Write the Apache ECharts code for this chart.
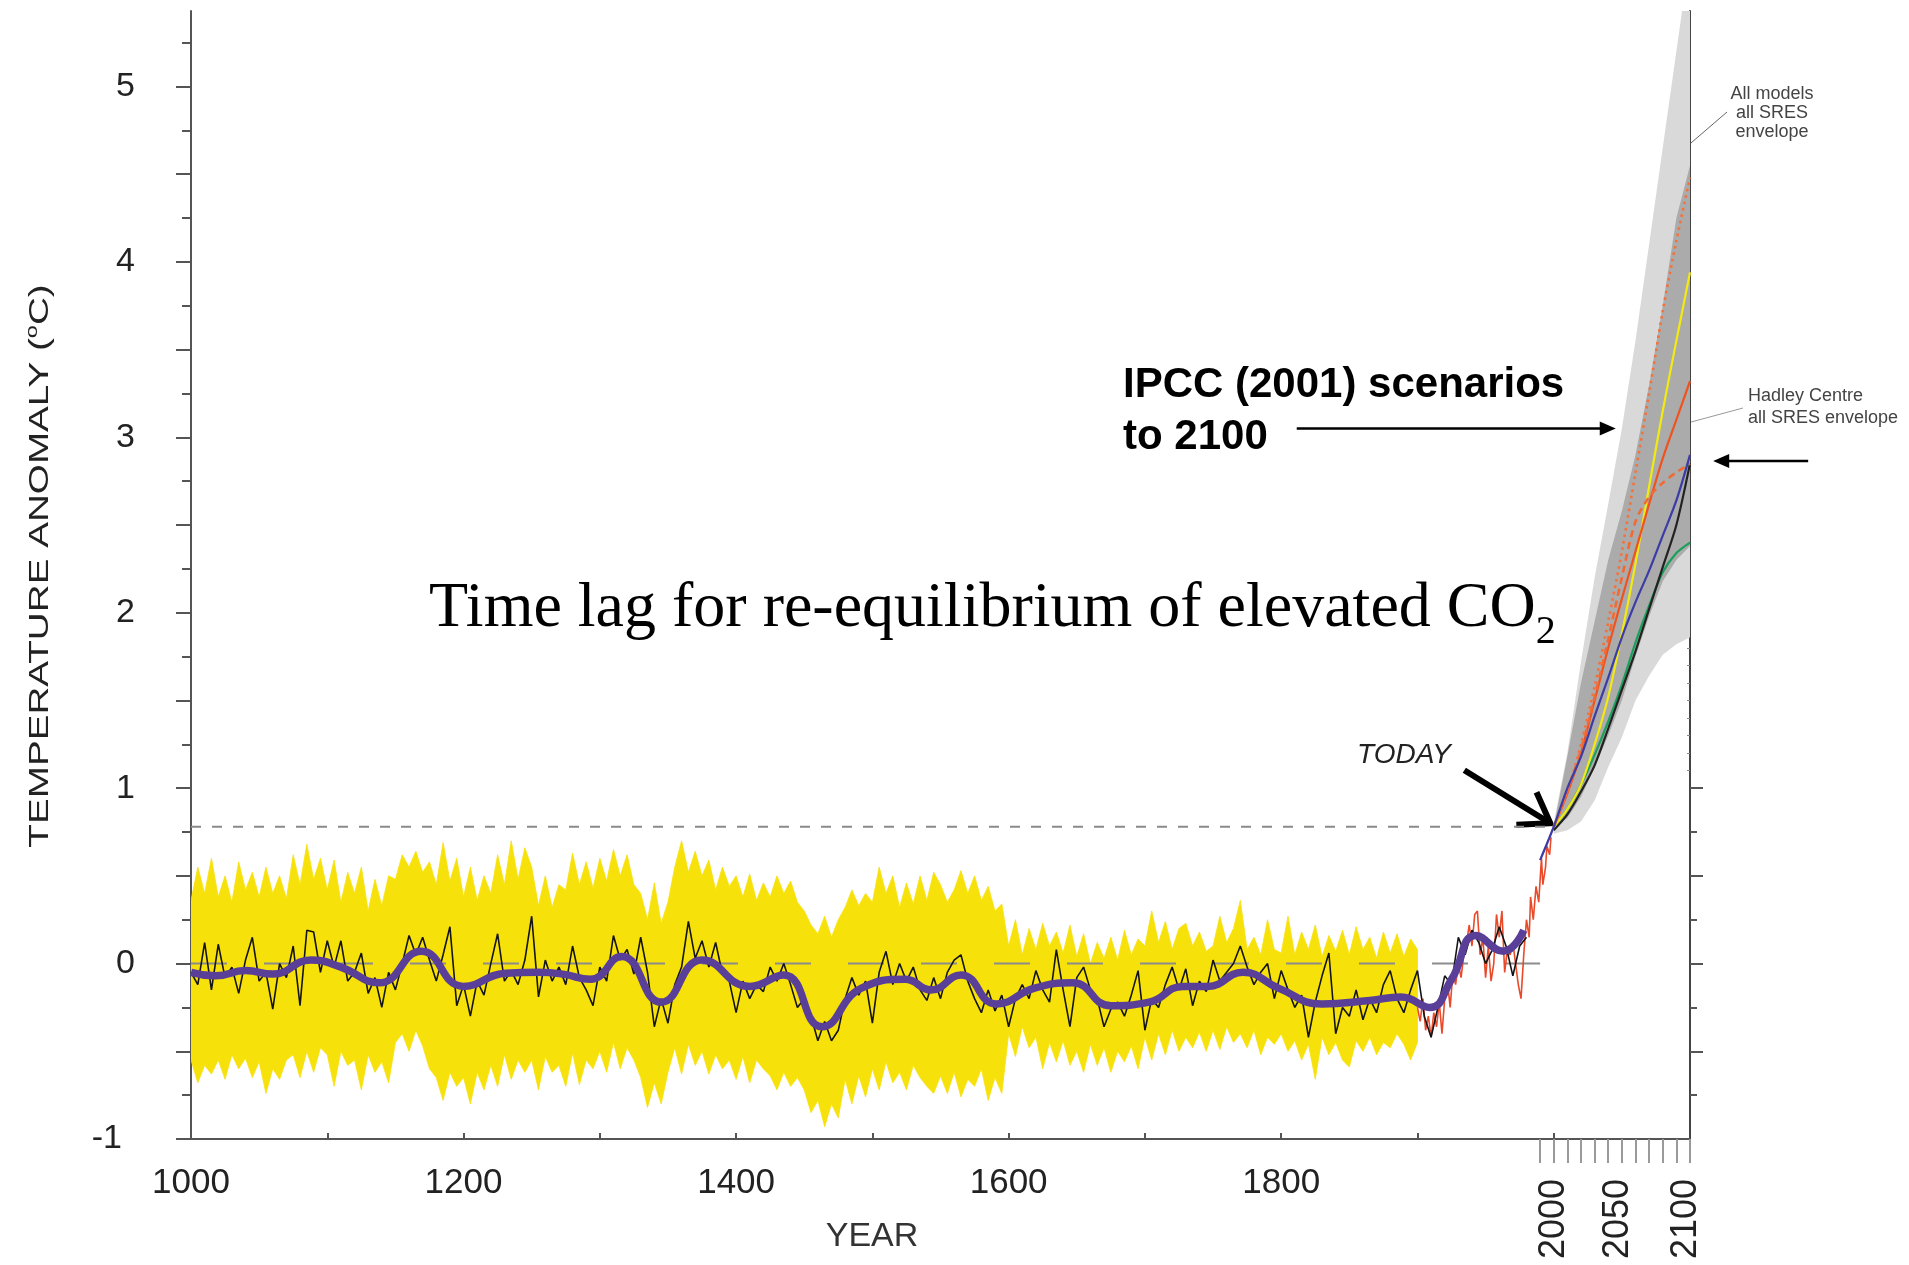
<!DOCTYPE html>
<html>
<head>
<meta charset="utf-8">
<title>Temperature anomaly 1000-2100</title>
<script src="https://cdn.jsdelivr.net/npm/echarts@6/dist/echarts.min.js"></script>
<style>
  html, body { margin: 0; padding: 0; background: #ffffff; }
  #chart { width: 1909px; height: 1265px; }
</style>
</head>
<body>
<div id="chart"></div>
<script>
// ---------------- data ----------------
// Reconstruction uncertainty band, one value every 5 years from 1000 to 1900
const bandStartYear = 1000;
const bandStepYears = 5;
const bandUpper = [
  0.36, 0.55, 0.40, 0.60, 0.38, 0.50, 0.35, 0.58, 0.42, 0.52,
  0.38, 0.55, 0.40, 0.50, 0.37, 0.62, 0.45, 0.68, 0.48, 0.60,
  0.42, 0.59, 0.35, 0.52, 0.40, 0.55, 0.30, 0.48, 0.33, 0.50,
  0.48, 0.62, 0.55, 0.64, 0.52, 0.58, 0.45, 0.69, 0.47, 0.60,
  0.38, 0.55, 0.36, 0.50, 0.40, 0.62, 0.45, 0.70, 0.48, 0.66,
  0.55, 0.33, 0.50, 0.32, 0.45, 0.42, 0.63, 0.45, 0.58, 0.43,
  0.60, 0.47, 0.65, 0.50, 0.62, 0.45, 0.40, 0.25, 0.46, 0.23,
  0.35, 0.55, 0.70, 0.52, 0.64, 0.50, 0.59, 0.42, 0.55, 0.44,
  0.50, 0.38, 0.51, 0.36, 0.46, 0.38, 0.50, 0.40, 0.47, 0.35,
  0.30, 0.22, 0.17, 0.27, 0.15, 0.25, 0.32, 0.42, 0.33, 0.40,
  0.35, 0.55, 0.40, 0.50, 0.32, 0.46, 0.34, 0.50, 0.36, 0.52,
  0.45, 0.35, 0.42, 0.53, 0.40, 0.50, 0.36, 0.44, 0.30, 0.34,
  0.10, 0.25, 0.05, 0.20, 0.08, 0.23, 0.10, 0.18, 0.06, 0.22,
  0.04, 0.17, 0.00, 0.12, 0.03, 0.15, 0.02, 0.19, 0.05, 0.14,
  0.10, 0.30, 0.12, 0.24, 0.08, 0.20, 0.23, 0.10, 0.18, 0.07,
  0.10, 0.27, 0.12, 0.20, 0.36, 0.08, 0.15, 0.05, 0.25, 0.08,
  0.06, 0.27, 0.05, 0.18, 0.08, 0.22, 0.04, 0.16, 0.07, 0.19,
  0.05, 0.21, 0.08, 0.15, 0.03, 0.18, 0.06, 0.17, 0.04, 0.14,
  0.08
];
const bandLower = [
  -0.55, -0.68, -0.58, -0.63, -0.55, -0.66, -0.52, -0.60, -0.54, -0.65,
  -0.56, -0.74, -0.60, -0.66, -0.55, -0.52, -0.65, -0.50, -0.62, -0.48,
  -0.52, -0.70, -0.50, -0.58, -0.55, -0.72, -0.52, -0.62, -0.56, -0.68,
  -0.45, -0.40, -0.50, -0.38, -0.47, -0.60, -0.65, -0.78, -0.62, -0.70,
  -0.65, -0.80, -0.62, -0.72, -0.58, -0.70, -0.52, -0.66, -0.55, -0.62,
  -0.55, -0.72, -0.53, -0.62, -0.58, -0.70, -0.51, -0.69, -0.55, -0.60,
  -0.50, -0.62, -0.45, -0.60, -0.48, -0.55, -0.65, -0.82, -0.68, -0.80,
  -0.62, -0.48, -0.63, -0.46, -0.58, -0.50, -0.63, -0.52, -0.60, -0.55,
  -0.66, -0.53, -0.68, -0.55, -0.60, -0.64, -0.72, -0.62, -0.70, -0.65,
  -0.72, -0.85, -0.78, -0.93, -0.80, -0.88, -0.66, -0.80, -0.64, -0.76,
  -0.60, -0.72, -0.56, -0.68, -0.62, -0.72, -0.58, -0.65, -0.70, -0.74,
  -0.64, -0.74, -0.62, -0.76, -0.66, -0.70, -0.60, -0.78, -0.65, -0.74,
  -0.40, -0.53, -0.36, -0.48, -0.42, -0.60, -0.45, -0.56, -0.44, -0.58,
  -0.50, -0.62, -0.46, -0.58, -0.48, -0.62, -0.50, -0.56, -0.47, -0.60,
  -0.42, -0.55, -0.40, -0.52, -0.38, -0.50, -0.42, -0.48, -0.39, -0.50,
  -0.38, -0.49, -0.36, -0.45, -0.40, -0.48, -0.38, -0.52, -0.42, -0.46,
  -0.40, -0.50, -0.44, -0.55, -0.46, -0.66, -0.42, -0.52, -0.45, -0.55,
  -0.59, -0.44, -0.50, -0.42, -0.52, -0.45, -0.48, -0.40, -0.46, -0.55,
  -0.45
];

// Proxy reconstruction, one value every 5 years from 1000 to 1980
const proxyStartYear = 1000;
const proxyStepYears = 5;
const proxyValues = [
  -0.05, -0.12, 0.12, -0.15, 0.11, -0.08, -0.02, -0.17, 0.02, 0.15,
  -0.10, -0.05, -0.26, 0.00, -0.08, 0.10, -0.24, 0.19, 0.18, -0.05,
  0.13, -0.02, 0.13, -0.10, -0.05, 0.06, -0.17, -0.08, -0.25, -0.05,
  -0.15, 0.00, 0.16, 0.05, 0.15, 0.02, -0.10, 0.05, 0.21, -0.24,
  -0.12, -0.30, -0.10, -0.18, 0.00, 0.17, -0.10, -0.04, -0.12, 0.02,
  0.27, -0.19, 0.02, -0.10, -0.02, -0.12, 0.10, -0.08, -0.15, -0.24,
  -0.02, -0.10, 0.16, 0.02, 0.08, -0.06, 0.15, -0.05, -0.36, -0.20,
  -0.34, -0.12, -0.02, 0.24, 0.03, 0.13, -0.02, 0.12, -0.06, -0.10,
  -0.28, -0.10, -0.20, -0.12, -0.16, -0.02, -0.10, 0.00, -0.12, -0.25,
  -0.20, -0.30, -0.44, -0.33, -0.44, -0.38, -0.20, -0.08, -0.18, -0.10,
  -0.34, -0.05, 0.07, -0.12, 0.00, -0.10, -0.02, -0.15, -0.21, -0.08,
  -0.20, -0.05, 0.02, 0.05, -0.10, -0.20, -0.28, -0.15, -0.27, -0.18,
  -0.36, -0.20, -0.12, -0.20, -0.04, -0.15, -0.22, 0.08, -0.15, -0.36,
  -0.08, -0.02, -0.15, -0.20, -0.36, -0.26, -0.22, -0.30, -0.18, -0.04,
  -0.38, -0.20, -0.25, -0.12, -0.02, -0.15, -0.03, -0.24, -0.10, -0.16,
  0.02, -0.10, -0.05, 0.00, 0.10, -0.02, -0.12, -0.05, 0.00, -0.20,
  -0.04, -0.15, -0.25, -0.18, -0.42, -0.22, -0.07, 0.06, -0.40, -0.25,
  -0.30, -0.15, -0.32, -0.20, -0.28, -0.12, -0.04, -0.20, -0.28, -0.15,
  -0.04, -0.30, -0.42, -0.25, -0.07, -0.12, 0.15, 0.05, 0.19, 0.12,
  0.00, 0.08, 0.21, 0.10, -0.07, 0.10, 0.15
];

// 40-year smoothed reconstruction
const smoothYears = [
  1000, 1018, 1040, 1060, 1088, 1110, 1138, 1169, 1200, 1231,
  1255, 1273, 1293, 1316, 1345, 1375, 1410, 1435, 1463, 1492,
  1524, 1543, 1565, 1591, 1619, 1647, 1675, 1703, 1728, 1746,
  1772, 1798, 1830, 1865, 1888, 1909, 1925, 1943, 1963, 1978
];
const smoothValues = [
  -0.05, -0.07, -0.04, -0.06, 0.02, -0.02, -0.11, 0.07, -0.13, -0.055,
  -0.05, -0.06, -0.09, 0.04, -0.22, 0.02, -0.13, -0.065, -0.36, -0.14,
  -0.09, -0.15, -0.065, -0.23, -0.14, -0.11, -0.24, -0.22, -0.13, -0.13,
  -0.05, -0.14, -0.23, -0.21, -0.19, -0.25, -0.09, 0.16, 0.07, 0.19
];

// Instrumental record
const instYears = [
  1900, 1902, 1904, 1906, 1908, 1910, 1912, 1914, 1916, 1918,
  1920, 1922, 1924, 1926, 1928, 1930, 1932, 1934, 1936, 1938,
  1940, 1942, 1944, 1946, 1948, 1950, 1952, 1954, 1956, 1958,
  1960, 1962, 1964, 1966, 1968, 1970, 1972, 1974, 1976, 1978,
  1980, 1982, 1983, 1985, 1987, 1989, 1991, 1992, 1994, 1995,
  1997, 1998
];
const instValues = [
  -0.25, -0.33, -0.20, -0.38, -0.30, -0.42, -0.28, -0.36, -0.22, -0.40,
  -0.20, -0.10, -0.25, -0.05, -0.12, 0.00, -0.08, 0.05, 0.12, 0.22,
  0.10, 0.28, 0.30, 0.05, 0.15, -0.08, 0.10, -0.10, 0.00, 0.28,
  0.15, 0.30, -0.05, 0.08, 0.05, 0.12, 0.00, -0.12, -0.20, 0.05,
  0.25, 0.15, 0.38, 0.25, 0.44, 0.35, 0.60, 0.45, 0.55, 0.67,
  0.62, 0.72
];

// Projections to 2100
const projYears      = [2000, 2010, 2020, 2030, 2040, 2050, 2060, 2070, 2080, 2090, 2100];
const allModelsLow   = [0.74, 0.76, 0.81, 0.93, 1.12, 1.29, 1.50, 1.64, 1.76, 1.82, 1.86];
const allModelsHigh  = [0.80, 1.20, 1.72, 2.20, 2.62, 3.05, 3.55, 4.10, 4.65, 5.20, 5.75];
const hadleyLow      = [0.78, 0.83, 0.95, 1.12, 1.30, 1.50, 1.75, 1.98, 2.18, 2.30, 2.38];
const hadleyHigh     = [0.78, 1.18, 1.60, 1.95, 2.30, 2.58, 2.90, 3.30, 3.75, 4.25, 4.55];
const scenA1FI       = [0.78, 0.98, 1.25, 1.58, 1.95, 2.35, 2.80, 3.25, 3.72, 4.12, 4.48];
const scenA2         = [0.78, 0.88, 1.02, 1.25, 1.52, 1.88, 2.28, 2.72, 3.15, 3.55, 3.94];
const scenA1B        = [0.78, 0.97, 1.20, 1.50, 1.80, 2.08, 2.35, 2.62, 2.88, 3.10, 3.32];
const scenB2         = [0.78, 0.98, 1.22, 1.52, 1.85, 2.20, 2.52, 2.66, 2.74, 2.80, 2.85];
const scenBlack      = [0.76, 0.85, 0.98, 1.13, 1.34, 1.56, 1.78, 2.02, 2.26, 2.50, 2.85];
const scenB1         = [0.78, 0.88, 1.02, 1.19, 1.38, 1.59, 1.83, 2.04, 2.23, 2.34, 2.40];
const scenBlueYears  = [1990, 2000, 2010, 2020, 2030, 2040, 2050, 2060, 2070, 2080, 2090, 2100];
const scenBlue       = [0.59, 0.78, 1.00, 1.18, 1.41, 1.63, 1.86, 2.06, 2.24, 2.44, 2.64, 2.90];

const todayLevel = 0.78;

// Axis ticks and labels
const yLabelValues = [-1, 0, 1, 2, 3, 4, 5];
const yMajorTicks = [-1, -0.5, 0, 0.5, 1, 1.5, 2, 2.5, 3, 3.5, 4, 4.5, 5];
const yMinorTicks = [-0.75, -0.25, 0.25, 0.75, 1.25, 1.75, 2.25, 2.75, 3.25, 3.75, 4.25, 4.75, 5.25];
const xLabelValues = [1000, 1200, 1400, 1600, 1800];
const xInnerTicks = [1100, 1200, 1300, 1400, 1500, 1600, 1700, 1800, 1900, 2000];
const projTickValues = [1990, 2000, 2010, 2020, 2030, 2040, 2050, 2060, 2070, 2080, 2090, 2100];
const projLabelValues = [2000, 2050, 2100];
const rightMajorTicks = [-0.5, 0, 0.5, 1];
const rightMinorTicks = [-0.75, -0.25, 0.25, 0.75];

// ---------------- chart ----------------
const SANS = "'Liberation Sans', Arial, Helvetica, sans-serif";
const SERIF = "'Liberation Serif', 'Times New Roman', serif";

function pairs(xs, ys) { return xs.map((x, i) => [x, ys[i]]); }
function stepYears(start, step, n) { const out = []; for (let i = 0; i < n; i++) out.push(start + i * step); return out; }

const bandYears = stepYears(bandStartYear, bandStepYears, bandUpper.length);
const proxyYears = stepYears(proxyStartYear, proxyStepYears, proxyValues.length);

// fine ruler ticks along the upper part of the right-hand axis
const rightRulerTicks = [];
for (let k = 11; k <= 54; k++) rightRulerTicks.push(k / 10);

// Filled region between a low and a high curve, drawn through the axis scales
function rangeSeries(name, xs, lo, hi, fill, stroke) {
  return {
    name: name,
    type: 'custom',
    clip: true,
    silent: true,
    data: xs.map((x, i) => [x, lo[i], hi[i]]),
    encode: { x: 0, y: [1, 2] },
    renderItem: function (params, api) {
      if (params.dataIndex !== 0) return null;
      const pts = [];
      for (let i = 0; i < xs.length; i++) pts.push(api.coord([xs[i], hi[i]]));
      for (let i = xs.length - 1; i >= 0; i--) pts.push(api.coord([xs[i], lo[i]]));
      return {
        type: 'polygon',
        shape: { points: pts },
        style: { fill: fill, stroke: stroke || fill, lineWidth: stroke ? 0.8 : 0 }
      };
    }
  };
}

function lineSeries(name, data, color, width, type, smooth) {
  return {
    name: name,
    type: 'line',
    data: data,
    symbol: 'none',
    silent: true,
    smooth: smooth || false,
    clip: true,
    lineStyle: { color: color, width: width, type: type || 'solid', cap: 'butt' }
  };
}

const option = {
  animation: false,
  backgroundColor: '#ffffff',
  grid: { left: 191, right: 219, top: 11, bottom: 126, containLabel: false, outerBoundsMode: 'none' },
  xAxis: [
    {
      type: 'value', min: 1000, max: 2100, position: 'bottom',
      axisLine: { show: true, onZero: false, lineStyle: { color: '#555', width: 2 } },
      axisTick: { show: true, inside: true, length: 6, customValues: xInnerTicks, lineStyle: { color: '#555', width: 2 } },
      axisLabel: {
        show: true, customValues: xLabelValues, margin: 27, fontSize: 35, fontFamily: SANS, color: '#222',
        formatter: v => String(v)
      },
      splitLine: { show: false }
    },
    {
      type: 'value', min: 1000, max: 2100, position: 'bottom',
      axisLine: { show: false, onZero: false },
      axisTick: { show: true, inside: false, length: 24, customValues: projTickValues, lineStyle: { color: '#9a9a9a', width: 2 } },
      axisLabel: {
        show: true, customValues: projLabelValues, rotate: 90, margin: 40,
        fontSize: 36, fontFamily: SANS, color: '#222',
        formatter: v => (v === 2000 ? '{n|' + String(v) + '}' : '{s|' + String(v) + '}'),
        rich: {
          n: { fontSize: 36, fontFamily: SANS, color: '#222' },
          s: { fontSize: 36, fontFamily: SANS, color: '#222', padding: [0, 0, 8, 0] }
        }
      },
      splitLine: { show: false }
    }
  ],
  yAxis: [
    {
      type: 'value', min: -1, max: 5.43, position: 'left',
      axisLine: { show: true, onZero: false, lineStyle: { color: '#555', width: 2 } },
      axisTick: { show: true, inside: false, length: 15, customValues: yMajorTicks, lineStyle: { color: '#555', width: 2 } },
      axisLabel: {
        show: true, customValues: yLabelValues, margin: 56, fontSize: 34, fontFamily: SANS, color: '#222',
        formatter: v => (v < 0 ? '{m|' + String(v) + '}' : '{p|' + String(v) + '}'),
        rich: {
          p: { fontSize: 34, fontFamily: SANS, color: '#222' },
          m: { fontSize: 34, fontFamily: SANS, color: '#222', padding: [0, 13, 0, 0] }
        }
      },
      splitLine: { show: false }
    },
    {
      type: 'value', min: -1, max: 5.43, position: 'left',
      axisLine: { show: false, onZero: false },
      axisTick: { show: true, inside: false, length: 9, customValues: yMinorTicks, lineStyle: { color: '#555', width: 2 } },
      axisLabel: { show: false },
      splitLine: { show: false }
    },
    {
      type: 'value', min: -1, max: 5.43, position: 'right',
      axisLine: { show: true, onZero: false, lineStyle: { color: '#444', width: 2 } },
      axisTick: { show: true, inside: false, length: 13, customValues: rightMajorTicks, lineStyle: { color: '#555', width: 2 } },
      axisLabel: { show: false },
      splitLine: { show: false }
    },
    {
      type: 'value', min: -1, max: 5.43, position: 'right',
      axisLine: { show: false, onZero: false },
      axisTick: { show: true, inside: false, length: 7, customValues: rightMinorTicks, lineStyle: { color: '#555', width: 2 } },
      axisLabel: { show: false },
      splitLine: { show: false }
    },
    {
      type: 'value', min: -1, max: 5.43, position: 'right',
      axisLine: { show: false, onZero: false },
      axisTick: { show: true, inside: true, length: 3, customValues: rightRulerTicks, lineStyle: { color: '#888', width: 1 } },
      axisLabel: { show: false },
      splitLine: { show: false }
    }
  ],
  series: [
    rangeSeries('Reconstruction uncertainty', bandYears, bandLower, bandUpper, '#f7e10a', '#f7e10a'),
    lineSeries('Zero', [[1000, 0], [1990, 0]], '#8c8c8c', 2, [36, 37]),
    lineSeries('Today level', [[1000, todayLevel], [2000, todayLevel]], '#8a8a8a', 2, [10, 11]),
    lineSeries('Instrumental', pairs(instYears, instValues), '#ea4a2a', 1.6),
    lineSeries('Proxy reconstruction', pairs(proxyYears, proxyValues), '#141414', 1.6),
    lineSeries('40-year smooth', pairs(smoothYears, smoothValues), '#5a3f98', 7.5, 'solid', 0.5),
    rangeSeries('All models, all SRES envelope', projYears, allModelsLow, allModelsHigh, '#d9d9d9'),
    rangeSeries('Hadley Centre, all SRES envelope', projYears, hadleyLow, hadleyHigh, '#ababab'),
    lineSeries('B1', pairs(projYears, scenB1), '#1aa05a', 2.2, 'solid', 0.3),
    lineSeries('Black scenario', pairs(projYears, scenBlack), '#222222', 2.2, 'solid', 0.3),
    lineSeries('A2', pairs(projYears, scenA2), '#f2ea10', 2.2, 'solid', 0.3),
    lineSeries('A1B', pairs(projYears, scenA1B), '#f0521e', 2.2, 'solid', 0.3),
    lineSeries('B2', pairs(projYears, scenB2), '#f06a34', 2.6, [7, 5], 0.3),
    lineSeries('A1FI', pairs(projYears, scenA1FI), '#f4713c', 2.6, [2.5, 4], 0.3),
    lineSeries('Blue scenario', pairs(scenBlueYears, scenBlue), '#3c3ca6', 2.2, 'solid', 0.3)
  ]
};

const chart = echarts.init(document.getElementById('chart'), null, { renderer: 'canvas', width: 1909, height: 1265 });
chart.setOption(option);

// ---------------- annotations ----------------
const toPx = (x, y) => chart.convertToPixel({ xAxisIndex: 0, yAxisIndex: 0 }, [x, y]);

function filledArrow(x1, y1, x2, y2, width, headLen, headWidth, color) {
  const dx = x2 - x1, dy = y2 - y1, len = Math.hypot(dx, dy);
  const ux = dx / len, uy = dy / len, nx = -uy, ny = ux;
  const bx = x2 - ux * headLen, by = y2 - uy * headLen;
  return [
    { type: 'line', silent: true, shape: { x1: x1, y1: y1, x2: bx + ux * 2, y2: by + uy * 2 }, style: { stroke: color, lineWidth: width } },
    { type: 'polygon', silent: true, shape: { points: [[x2, y2], [bx + nx * headWidth / 2, by + ny * headWidth / 2], [bx - nx * headWidth / 2, by - ny * headWidth / 2]] }, style: { fill: color } }
  ];
}

function openArrow(x1, y1, x2, y2, width, armLen, armAngle, color) {
  const ang = Math.atan2(y1 - y2, x1 - x2);
  const a1 = ang + armAngle, a2 = ang - armAngle;
  return [
    { type: 'line', silent: true, shape: { x1: x1, y1: y1, x2: x2, y2: y2 }, style: { stroke: color, lineWidth: width } },
    { type: 'polyline', silent: true, shape: { points: [[x2 + Math.cos(a1) * armLen, y2 + Math.sin(a1) * armLen], [x2, y2], [x2 + Math.cos(a2) * armLen, y2 + Math.sin(a2) * armLen]] },
      style: { stroke: color, lineWidth: width, lineJoin: 'miter', fill: null } }
  ];
}

const todayTip = toPx(1997.5, 0.80);
const ipccTip = toPx(2045.5, 3.05);
const hadleyTip = toPx(2117, 2.865);

const graphics = [].concat(
  [
    {
      type: 'text', silent: true, x: 40, y: 566, rotation: Math.PI / 2, scaleX: 1.38,
      style: {
        text: '{a|TEMPERATURE ANOMALY (}{s|o}{a|C)}',
        align: 'center', verticalAlign: 'middle',
        rich: {
          a: { fontSize: 28, fontFamily: SANS, fill: '#222', lineHeight: 32 },
          s: { fontSize: 17, fontFamily: SANS, fill: '#222', lineHeight: 32, verticalAlign: 'top' }
        }
      }
    },
    {
      type: 'text', silent: true, x: 872, y: 1237,
      style: { text: 'YEAR', fontSize: 34, fontFamily: SANS, fill: '#333', align: 'center', verticalAlign: 'middle' }
    },
    {
      type: 'text', silent: true, x: 1123, y: 385,
      style: { text: 'IPCC (2001) scenarios', fontSize: 42, fontWeight: 'bold', fontFamily: SANS, fill: '#000', align: 'left', verticalAlign: 'middle' }
    },
    {
      type: 'text', silent: true, x: 1123, y: 437,
      style: { text: 'to 2100', fontSize: 42, fontWeight: 'bold', fontFamily: SANS, fill: '#000', align: 'left', verticalAlign: 'middle' }
    },
    {
      type: 'text', silent: true, x: 429, y: 609,
      style: {
        text: '{a|Time lag for re-equilibrium of elevated CO}{b|2}',
        align: 'left', verticalAlign: 'middle',
        rich: {
          a: { fontSize: 64, fontFamily: SERIF, fill: '#000' },
          b: { fontSize: 40, fontFamily: SERIF, fill: '#000', padding: [46, 0, 0, 0], verticalAlign: 'bottom' }
        }
      }
    },
    {
      type: 'text', silent: true, x: 1404, y: 755,
      style: { text: 'TODAY', fontSize: 28, fontStyle: 'italic', fontFamily: SANS, fill: '#222', align: 'center', verticalAlign: 'middle' }
    },
    {
      type: 'text', silent: true, x: 1772, y: 113,
      style: { text: 'All models\nall SRES\nenvelope', fontSize: 18, lineHeight: 19, fontFamily: SANS, fill: '#444', align: 'center', verticalAlign: 'middle' }
    },
    {
      type: 'text', silent: true, x: 1748, y: 407,
      style: { text: 'Hadley Centre\nall SRES envelope', fontSize: 18, lineHeight: 22, fontFamily: SANS, fill: '#444', align: 'left', verticalAlign: 'middle' }
    },
    { type: 'line', silent: true, shape: { x1: 1727, y1: 112, x2: 1677, y2: 155 }, style: { stroke: '#666', lineWidth: 1 } },
    { type: 'line', silent: true, shape: { x1: 1743, y1: 408, x2: 1680, y2: 425 }, style: { stroke: '#999', lineWidth: 1 } }
  ],
  filledArrow(ipccTip[0] - 319, ipccTip[1], ipccTip[0], ipccTip[1], 2.5, 16, 14, '#000'),
  filledArrow(hadleyTip[0] + 95, hadleyTip[1], hadleyTip[0], hadleyTip[1], 2.5, 16, 14, '#000'),
  openArrow(todayTip[0] - 86, todayTip[1] - 53, todayTip[0], todayTip[1], 6, 34, 0.6, '#000')
);

chart.setOption({ graphic: graphics });
</script>
</body>
</html>
